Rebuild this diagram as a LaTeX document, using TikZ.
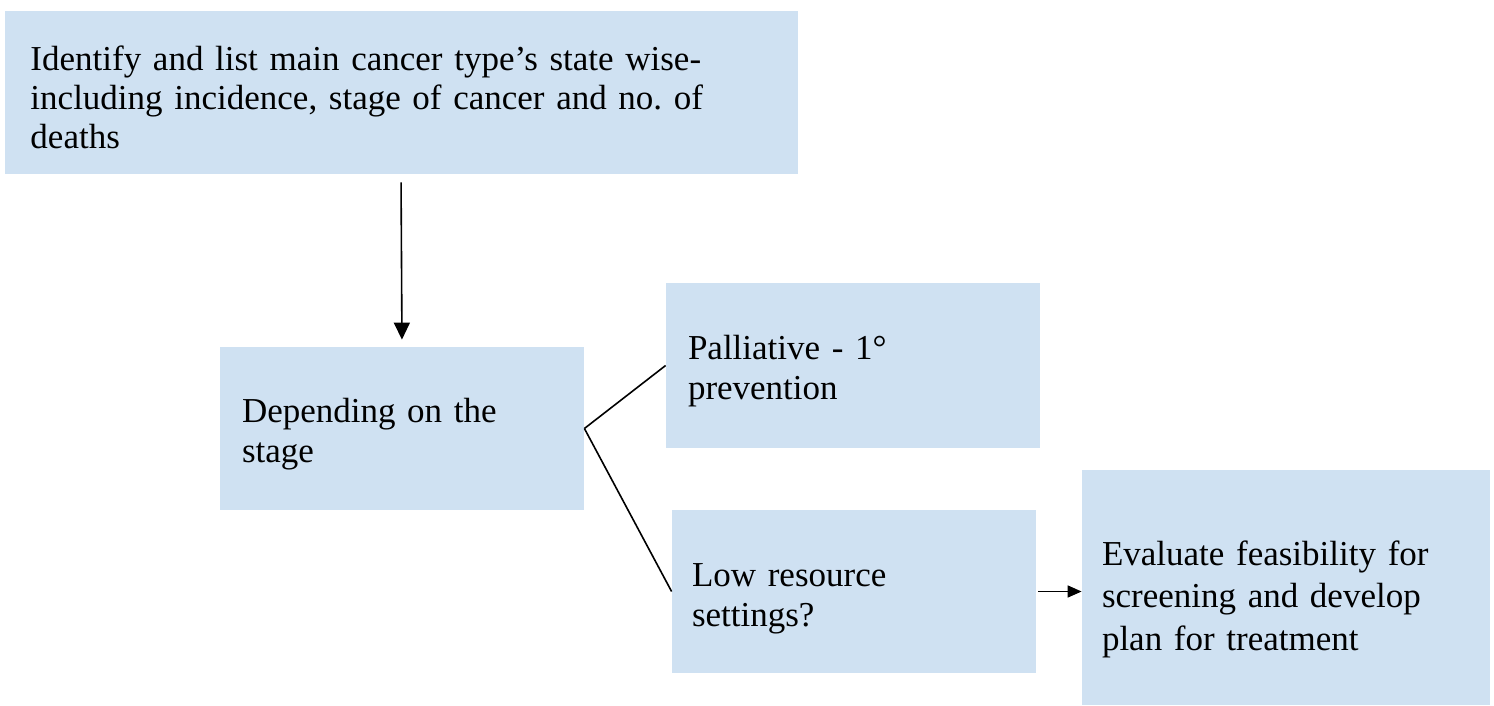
\documentclass[tikz,border=0pt]{standalone}
\usepackage{fontspec}
\setmainfont{Liberation Serif}
\usetikzlibrary{arrows.meta}
\definecolor{boxblue}{RGB}{207,225,242}

\begin{document}
\begin{tikzpicture}[x=0.5pt,y=-0.5pt,
  stepbox/.style={rectangle,fill=boxblue,inner xsep=11pt,inner ysep=0pt,align=left,
    font=\fontsize{17.5}{20}\selectfont\frenchspacing},
  textdrop/.style={execute at begin node={\rule{0pt}{#1}}},
  link/.style={line width=0.8pt},
  flow/.style={line width=0.8pt,-{Triangle[length=8.5pt,width=8pt]}}]
  \useasboundingbox (0,0) rectangle (1494,706);

  \node[stepbox,textdrop=17pt,inner xsep=13pt,minimum width=396.5pt,minimum height=81.5pt,text width=370.5pt,
    font=\fontsize{17.5}{19.5}\selectfont\frenchspacing]
    (cancertypes) at (401,92.5)
    {Identify and list main cancer type’s state wise-\\including incidence, stage of cancer and no. of\\deaths};
  \node[stepbox,textdrop=18pt,minimum width=182pt,minimum height=81.5pt,text width=160pt]
    (stage) at (402,428.5) {Depending on the\\stage};
  \node[stepbox,textdrop=18pt,minimum width=187pt,minimum height=82.5pt,text width=165pt]
    (palliative) at (853,365.5) {Palliative - 1°\\prevention};
  \node[stepbox,textdrop=18.5pt,inner xsep=10pt,minimum width=182pt,minimum height=81.5pt,text width=162pt]
    (lowresource) at (854,591.5) {Low resource\\settings?};
  \node[stepbox,textdrop=24pt,inner xsep=10pt,minimum width=204pt,minimum height=117.5pt,text width=184pt,
    font=\fontsize{17.5}{21.25}\selectfont\frenchspacing]
    (evaluate) at (1286,587.5) {Evaluate feasibility for\\screening and develop\\plan for treatment};

  \draw[flow,shorten <=4pt,shorten >=3.5pt] (cancertypes.south) -- (stage.north);
  \draw[link] (stage.east) -- (palliative.west);
  \draw[link] (stage.east) -- (lowresource.west);
  \draw[flow,-{Triangle[length=7pt,width=6pt]},shorten <=1pt] (lowresource.east) -- (lowresource.east -| evaluate.west);

\end{tikzpicture}
\end{document}
